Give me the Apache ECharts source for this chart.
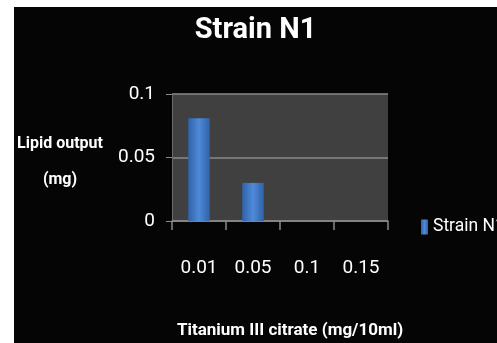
<!DOCTYPE html>
<html><head><meta charset="utf-8">
<script src="https://cdn.jsdelivr.net/npm/echarts@6/dist/echarts.min.js"></script>
<style>
html,body{margin:0;padding:0;background:#fff;width:497px;height:343px;overflow:hidden}
#c{position:absolute;left:14px;top:7px;width:483px;height:336px;background:#050505}
</style></head><body>
<div id="c"></div>
<script>
var categories = ['0.01','0.05','0.1','0.15'];
var values = [0.081, 0.03, 0, 0];
var seriesName = 'Strain N1';
var titleText = 'Strain N1';
var yName = 'Lipid output\n(mg)';
var xName = 'Titanium III citrate (mg/10ml)';

var FONT = "Roboto,'Open Sans',sans-serif";
var chart = echarts.init(document.getElementById('c'));
var barColor = new echarts.graphic.LinearGradient(0,0,1,0,[
  {offset:0,color:'#2f62a8'},{offset:0.5,color:'#4f8ad8'},{offset:1,color:'#2f62a8'}
]);
chart.setOption({
  backgroundColor:'#050505',
  animation:false,
  title:{text:titleText,left:'center',top:4,
    textStyle:{color:'#fff',fontSize:29,fontWeight:'bold',fontFamily:FONT}},
  legend:{left:402,top:206,itemWidth:7,itemHeight:15,itemGap:2,
    textStyle:{color:'#fff',fontSize:17.5,fontFamily:FONT},
    data:[{name:seriesName,icon:'rect'}]},
  grid:{left:158,right:109,top:87,bottom:122,show:true,backgroundColor:'#404040',borderWidth:0,
    containLabel:false,outerBoundsMode:'none'},
  graphic:[{type:'text',x:46,y:119,z:10,
    style:{text:yName,fill:'#fff',font:'bold 16px '+FONT,lineHeight:36,align:'center',verticalAlign:'top'}}],
  xAxis:{type:'category',data:categories,
    name:xName,nameLocation:'middle',nameGap:101,
    nameTextStyle:{color:'#fff',fontSize:17,fontWeight:'bold',fontFamily:FONT,padding:[0,0,0,20]},
    axisLine:{lineStyle:{color:'#8a8a8a',width:1.5}},
    axisTick:{show:true,length:9,alignWithLabel:false,lineStyle:{color:'#8a8a8a',width:1.5}},
    axisLabel:{color:'#fff',fontSize:19,margin:38,interval:0,fontFamily:FONT}},
  yAxis:{type:'value',min:0,max:0.1,interval:0.05,
    axisLine:{show:true,lineStyle:{color:'#6a6a6a',width:1}},
    axisTick:{show:true,length:6,lineStyle:{color:'#8a8a8a'}},
    splitLine:{lineStyle:{color:'#8a8a8a',width:1.5}},
    axisLabel:{color:'#fff',fontSize:19,margin:17,fontFamily:FONT,
      formatter:function(v){return String(+v.toFixed(2));}}},
  series:[{name:seriesName,type:'bar',data:values,barWidth:'40%',
    itemStyle:{color:barColor}}]
});
</script></body></html>
